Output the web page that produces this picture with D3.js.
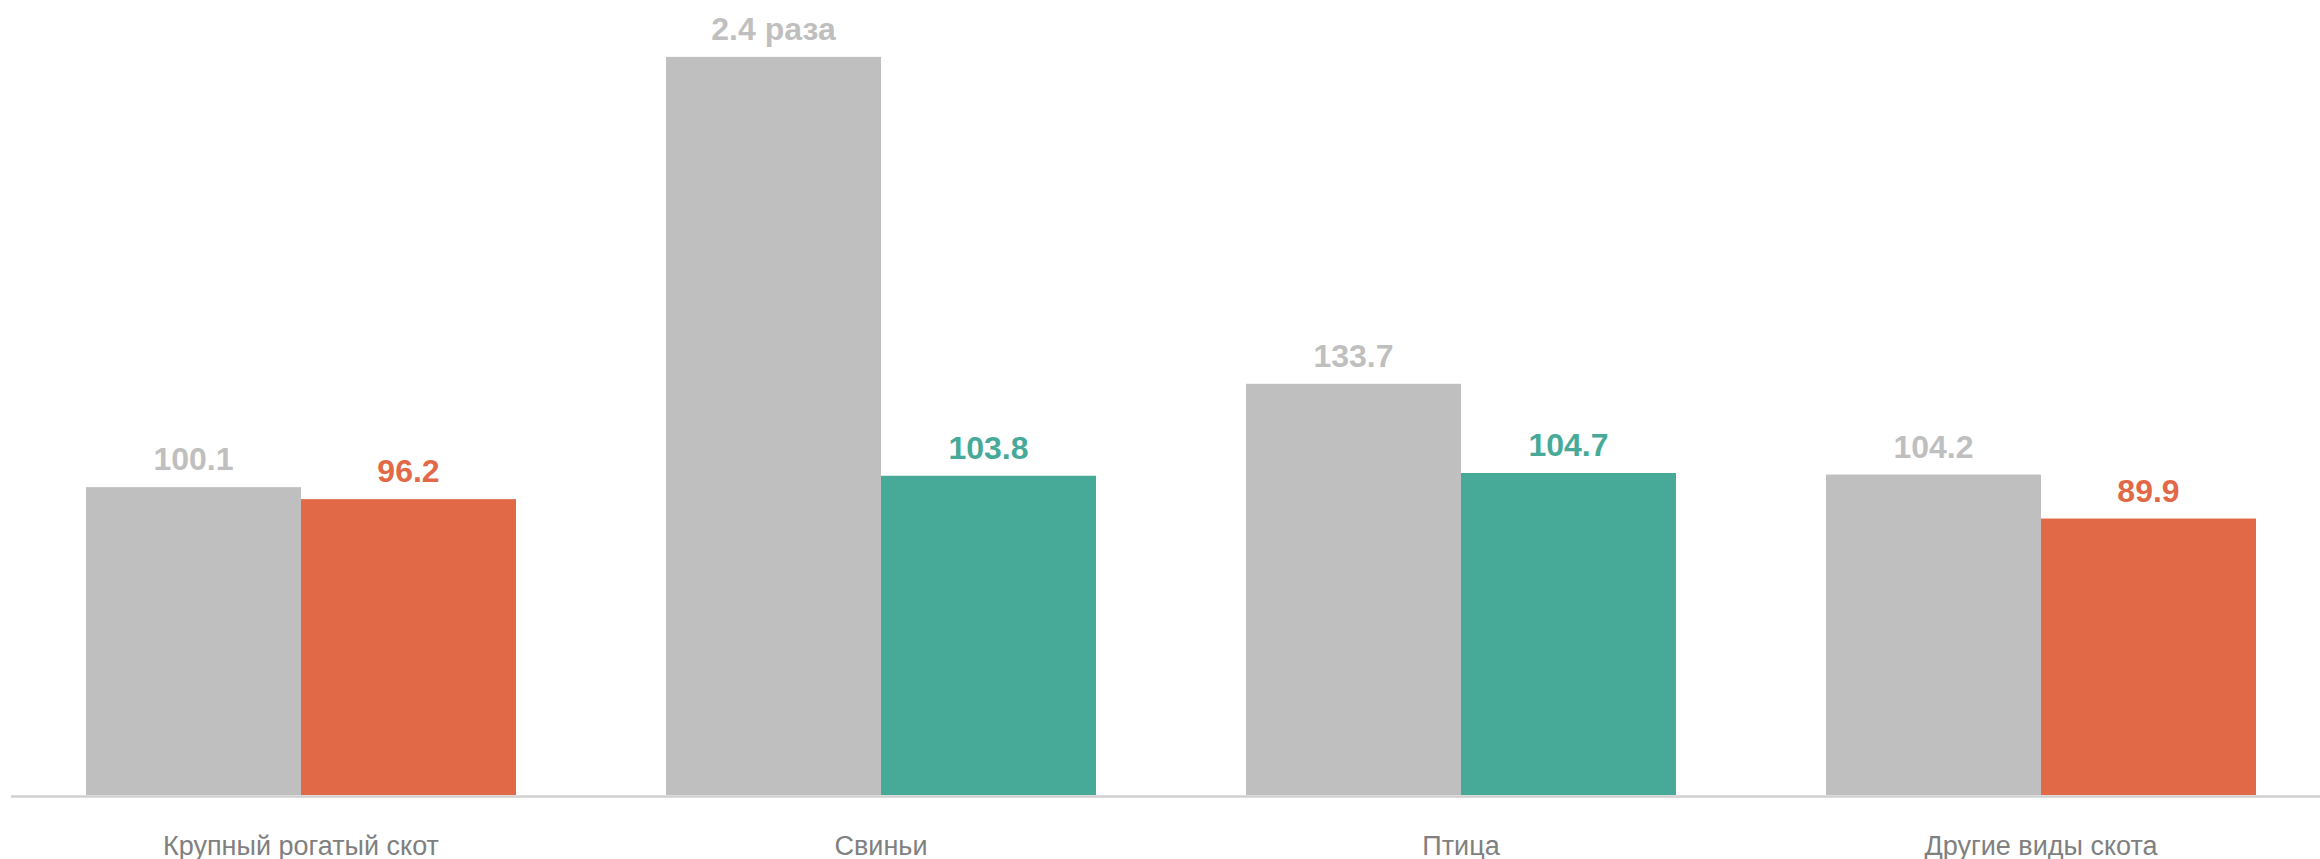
<!DOCTYPE html>
<html>
<head>
<meta charset="utf-8">
<script src="https://cdn.jsdelivr.net/npm/d3@7"></script>
<style>
  html, body { margin: 0; padding: 0; background: #ffffff; }
  svg { display: block; }
</style>
</head>
<body>
<svg id="chart" width="2320" height="859"></svg>
<script>
const categories = ["Крупный рогатый скот", "Свиньи", "Птица", "Другие виды скота"];
const prevValues = [100.1, 240, 133.7, 104.2];
const prevLabels = ["100.1", "2.4 раза", "133.7", "104.2"];
const currValues = [96.2, 103.8, 104.7, 89.9];
const currLabels = ["96.2", "103.8", "104.7", "89.9"];

const W = 2320, H = 859;
const svg = d3.select("#chart");

const x = d3.scaleBand().domain(categories).range([11, 2331]).paddingInner(0.2586).paddingOuter(0.1293);
const inner = d3.scaleBand().domain(["prev", "curr"]).range([0, x.bandwidth()]);
const y = d3.scaleLinear().domain([0, 258.5]).range([795, 0]);

const GRAY = "#bfbfbf", ORANGE = "#e26947", GREEN = "#47aa98";
const currColor = v => v >= 100 ? GREEN : ORANGE;

const rows = categories.map((c, i) => ({
  cat: c,
  prev: prevValues[i], prevLabel: prevLabels[i],
  curr: currValues[i], currLabel: currLabels[i]
}));

const g = svg.append("g");
const groups = g.selectAll("g.grp").data(rows).enter().append("g")
  .attr("transform", d => `translate(${x(d.cat)},0)`);

groups.append("rect")
  .attr("x", inner("prev")).attr("width", inner.bandwidth())
  .attr("y", d => y(d.prev)).attr("height", d => y(0) - y(d.prev))
  .attr("fill", GRAY);
groups.append("rect")
  .attr("x", inner("curr")).attr("width", inner.bandwidth())
  .attr("y", d => y(d.curr)).attr("height", d => y(0) - y(d.curr))
  .attr("fill", d => currColor(d.curr));

const lblFont = "'Liberation Sans', Arial, sans-serif";
groups.append("text")
  .attr("x", inner("prev") + inner.bandwidth() / 2)
  .attr("y", d => y(d.prev) - 17)
  .attr("text-anchor", "middle")
  .attr("font-family", lblFont).attr("font-weight", "bold").attr("font-size", 32)
  .attr("fill", GRAY)
  .text(d => d.prevLabel);
groups.append("text")
  .attr("x", inner("curr") + inner.bandwidth() / 2)
  .attr("y", d => y(d.curr) - 17)
  .attr("text-anchor", "middle")
  .attr("font-family", lblFont).attr("font-weight", "bold").attr("font-size", 32)
  .attr("fill", d => currColor(d.curr))
  .text(d => d.currLabel);

// axis
const axis = d3.axisBottom(x).tickSize(0).tickPadding(0);
const ax = svg.append("g").attr("transform", `translate(0,${y(0) + 1.5})`).call(axis);
ax.select(".domain").attr("stroke", "#d0d0d0").attr("stroke-width", 2.5)
  .attr("d", `M11,0H${W}`);
ax.selectAll(".tick text")
  .attr("dy", 0).attr("y", 58)
  .attr("font-family", lblFont).attr("font-size", 27)
  .attr("fill", "#808080");
</script>
</body>
</html>
